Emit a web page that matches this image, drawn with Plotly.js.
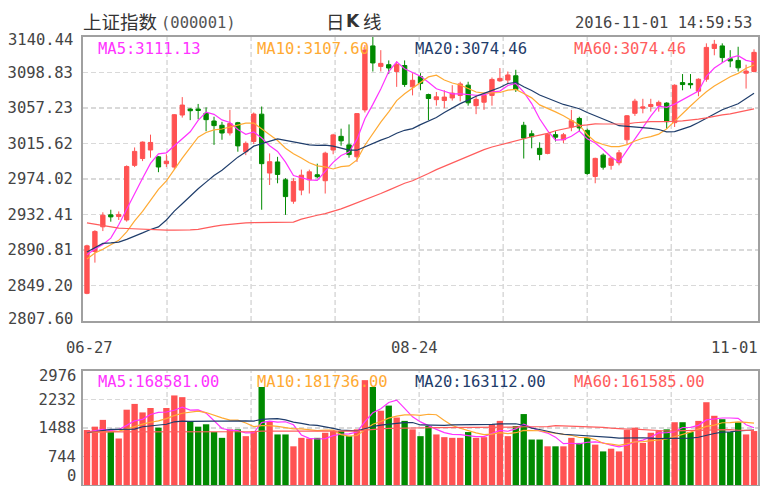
<!DOCTYPE html>
<html><head><meta charset="utf-8">
<script src="https://cdn.plot.ly/plotly-3.0.1.min.js"></script>
<style>html,body{margin:0;padding:0;background:#fff}#chart{width:760px;height:486px}</style>
</head><body><div id="chart"></div>
<script>
const dates = ['06-27','06-28','06-29','06-30','07-01','07-04','07-05','07-06','07-07','07-08',
'07-11','07-12','07-13','07-14','07-15','07-18','07-19','07-20','07-21','07-22',
'07-25','07-26','07-27','07-28','07-29','08-01','08-02','08-03','08-04','08-05',
'08-08','08-09','08-10','08-11','08-12','08-15','08-16','08-17','08-18','08-19',
'08-22','08-23','08-24','08-25','08-26','08-29','08-30','08-31','09-01','09-02',
'09-05','09-06','09-07','09-08','09-09','09-12','09-13','09-14','09-19','09-20',
'09-21','09-22','09-23','09-26','09-27','09-28','09-29','09-30','10-10','10-11',
'10-12','10-13','10-14','10-17','10-18','10-19','10-20','10-21','10-24','10-25',
'10-26','10-27','10-28','10-31','11-01'];
const open = [2840,2889,2918,2932,2930,2926,2990,2998,3008,3000,
2992,2988,3049,3056,3056,3051,3042,3037,3028,3040,
3006,3018,3050,2981,2994,2973,2948,2961,2973,2979,
2972,3008,3024,3014,3000,3055,3130,3106,3108,3100,
3107,3082,3094,3073,3067,3066,3069,3072,3084,3060,
3064,3072,3089,3090,3095,3037,3027,3010,3004,3026,
3020,3035,3045,3031,2977,3002,2990,2993,3020,3051,
3057,3059,3060,3063,3040,3087,3086,3077,3091,3127,
3130,3115,3113,3098,3100];
const high = [2897,2914,2935,2938,2936,2990,3011,3018,3026,3001,
3003,3050,3070,3057,3062,3058,3047,3041,3055,3041,
3018,3052,3059,3004,3000,2975,2975,2985,2985,2992,
3006,3027,3033,3038,3051,3131,3140.44,3125,3113,3112,
3113,3098,3098,3074,3076,3078,3084,3088,3088,3072,
3075,3093,3104,3100,3102,3041,3031,3017,3028,3030,
3028,3055,3047,3033,2999,3004,3000,3008,3049,3068,
3068,3068,3066,3064,3085,3097,3097,3092,3133,3137,
3133,3125,3129,3108,3126];
const low = [2839,2876,2913,2924,2926,2924,2988,2995,2999,2982,
2988,2985,3046,3043,3044,3030,3014,3020,3025,3006,
3002,3015,2938,2967,2969,2932,2945,2955,2957,2975,
2957,3003,3013,2999,2994,3052,3100,3100,3097,3082,
3082,3072,3078,3043,3060,3057,3066,3065,3060,3050,
3055,3060,3088,3085,3076,2998,3010,2996,3003,3018,
3016,3030,3030,2979,2969,2985,2985,2990,3015,3048,
3051,3053,3053,3033,3035,3078,3080,3071,3088,3119,
3110,3105,3100,3080,3099];
const close = [2895.70,2912.56,2931.59,2929.61,2932.48,2988.60,3006.39,3017.29,3016.85,2988.09,
2994.92,3049.38,3060.69,3054.02,3054.30,3043.56,3036.60,3027.90,3039.05,3012.82,
3015.83,3050.17,2992.00,2994.32,2979.34,2953.39,2971.28,2978.46,2982.43,2976.70,
3004.28,3025.68,3018.75,3002.64,3050.67,3125.20,3110.04,3109.55,3104.11,3108.10,
3084.81,3089.71,3085.88,3068.33,3070.31,3070.03,3074.68,3085.49,3063.31,3067.35,
3072.10,3090.71,3091.93,3095.95,3078.85,3021.98,3023.51,3002.85,3026.05,3023.00,
3025.87,3042.31,3033.90,2980.43,2998.17,2987.86,2998.48,3004.70,3048.14,3065.25,
3058.50,3061.35,3063.81,3041.17,3083.88,3084.72,3084.46,3090.94,3128.25,3131.94,
3116.31,3112.35,3104.27,3100.49,3122.44];
const volume = [1435,1523,1700,1382,1214,1966,2117,1895,2011,1497,
2011,2338,2293,1647,1523,1585,1382,1231,1453,1453,
1275,1408,2559,1647,1320,1320,1010,1231,1214,1231,
1364,1408,1408,1275,1453,2737,2559,1940,2073,1762,
1674,1453,1275,1541,1320,1249,1231,1231,1382,1231,
1249,1585,1674,1275,1541,1852,1187,1187,1010,1010,
1010,1231,1098,1231,1054,877,948,877,1435,1497,
1098,1364,1408,1453,1639,1639,1382,1674,2161,1807,
1718,1382,1639,1320,1408];
// closes of the 19 sessions before 06-27 (needed for MA5/10/20 at the left edge)
const priorCloses = [2821.05,2822.45,2916.62,2913.51,2925.23,2938.68,2934.10,2936.04,2927.16,2833.07,
2842.19,2887.21,2872.82,2885.11,2888.81,2878.56,2905.55,2891.96,2854.29];
const ma60Early = [2922.5,2921,2919.5,2917.5,2916.5,2916,2915.5,2915,2915,2914.5,
2914,2914,2914,2914.5,2915,2917,2918.5,2920,2921,2922,
2922.5,2923,2923,2923,2923,2923,2923.5,2927,2929.5,2931.5,
2933.5,2936,2939,2942.5,2946,2950,2953.5,2957,2961,2965,
2969,2972,2976,2980.5,2985,2989,2993,2997,3001,3005,
3008.5,3011.5,3014,3016.5,3019,3021.5,3023.5,3025.5,3027.5];
const volMa5Early = [1380,1420,1450,1420];
const volMa10Early = [1364,1375,1385,1395,1408,1460,1530,1590,1639];
const volMa20Early = [1364,1395,1430,1453,1453,1453,1460,1520,1540,1560,1585,1650,1665,1660,1656,1660,1665,1670,1675];
const volMa60Early = [1385,1385,1385,1385,1386,1388,1390,1390,1391,1391,
1392,1394,1396,1396,1396,1396,1395,1394,1394,1394,
1393,1393,1405,1407,1407,1406,1404,1404,1404,1404,
1405,1406,1407,1407,1408,1432,1455,1466,1478,1485,
1490,1492,1492,1495,1496,1496,1496,1496,1498,1498,
1498,1502,1508,1508,1512,1520,1522,1524,1524];
const priceTicks = ['2807.60','2849.20','2890.81','2932.41','2974.02','3015.62','3057.23','3098.83','3140.44'];
const volTicks = ['0','744','1488','2232','2976'];
const xLabels = ['06-27','08-24','11-01'];
const priceLegend = ['MA5:3111.13','MA10:3107.60','MA20:3074.46','MA60:3074.46'];
const volLegend = ['MA5:168581.00','MA10:181736.00','MA20:163112.00','MA60:161585.00'];
const titleName = '上证指数';
const titleCode = '(000001)';
const stamp = '2016-11-01 14:59:53';

const RED = '#ff5252', GREEN = '#008a00';
const MA_COLORS = ['#ff33ff', '#ffaa33', '#1f3d6b', '#ff5c5c'];
const MONO = 'DejaVu Sans Mono, monospace';
const CJK = 'Noto Sans CJK SC, sans-serif';

function maAt(arr, offset, n, i) { let s = 0; for (let k = 0; k < n; k++) s += arr[offset + i - k]; return s / n; }
const allClose = priorCloses.concat(close);
const P = priorCloses.length;
const ma5 = close.map((_, i) => maAt(allClose, P, 5, i));
const ma10 = close.map((_, i) => maAt(allClose, P, 10, i));
const ma20 = close.map((_, i) => maAt(allClose, P, 20, i));
const ma60 = close.map((_, i) => i < ma60Early.length ? ma60Early[i] : maAt(close, 0, 60, i));
const vma = (n, early) => volume.map((_, i) => i < early.length ? early[i] : maAt(volume, 0, n, i));
const vma5 = vma(5, volMa5Early), vma10 = vma(10, volMa10Early), vma20 = vma(20, volMa20Early), vma60 = vma(60, volMa60Early);
const volColors = close.map((c, i) => c >= open[i] ? RED : GREEN);

const traces = [
  { type: 'candlestick', x: dates, open: open, high: high, low: low, close: close, xaxis: 'x', yaxis: 'y',
    increasing: { line: { color: RED, width: 1 }, fillcolor: RED },
    decreasing: { line: { color: GREEN, width: 1 }, fillcolor: GREEN },
    whiskerwidth: 0, hoverinfo: 'skip' },
  { type: 'bar', x: dates, y: volume, xaxis: 'x2', yaxis: 'y2', marker: { color: volColors, line: { width: 0 } }, hoverinfo: 'skip' }
];
[ma5, ma10, ma20, ma60].forEach((m, k) => traces.push({ type: 'scatter', mode: 'lines', x: dates, y: m, xaxis: 'x', yaxis: 'y', line: { color: MA_COLORS[k], width: 1.2 }, hoverinfo: 'skip' }));
[vma5, vma10, vma20, vma60].forEach((m, k) => traces.push({ type: 'scatter', mode: 'lines', x: dates, y: m, xaxis: 'x2', yaxis: 'y2', line: { color: MA_COLORS[k], width: 1.2 }, hoverinfo: 'skip' }));

const L = 83, R = 758, T = 37, B = 485;
const px = x => (x - L) / (R - L);
const py = y => (B - y) / (B - T);
const GRID = '#d9d9d9', FRAME = '#a0a0a0';
const TICKFONT = { family: MONO, size: 15.5, color: '#444' };

const xBase = { type: 'category', range: [-0.5, dates.length - 0.5], showticklabels: false, showgrid: false, zeroline: false,
  showline: true, mirror: true, linecolor: FRAME, linewidth: 2, ticks: '', fixedrange: true };
const yBase = { showgrid: true, gridcolor: GRID, gridwidth: 1.5, griddash: '5px,3px', zeroline: false, showline: true, mirror: true,
  linecolor: FRAME, linewidth: 2, ticks: 'outside', tickcolor: 'rgba(0,0,0,0)', tickfont: TICKFONT, fixedrange: true };

const shapes = [];
for (let k = 1; k <= 7; k++) {
  [['x domain', 'y domain'], ['x2 domain', 'y2 domain']].forEach(([xr, yr]) => shapes.push({
    type: 'line', xref: xr, yref: yr, x0: k * 0.1245, x1: k * 0.1245, y0: 0, y1: 1, layer: 'below',
    line: { color: GRID, width: 1.5, dash: '5px,3px' } }));
}

const annotations = [];
const ann = (text, x, y, opts) => annotations.push(Object.assign({ text: text, xref: 'paper', yref: 'paper', x: px(x), y: py(y),
  xanchor: 'left', yanchor: 'middle', showarrow: false, borderpad: 0 }, opts));
ann(titleName, 82, 21, { font: { family: CJK, size: 18.5, color: '#333' } });
ann(titleCode, 160, 23, { font: { family: MONO, size: 15.5, color: '#555' } });
ann('日', 325, 21, { font: { family: CJK, size: 18.5, color: '#333' } });
ann('<b>K</b>', 345, 21, { font: { family: 'DejaVu Sans, sans-serif', size: 17, color: '#333' } });
ann('线', 362, 21, { font: { family: CJK, size: 18.5, color: '#333' } });
ann(stamp, 753, 23, { xanchor: 'right', font: { family: MONO, size: 15.5, color: '#444' } });
const legX = [97, 256, 414, 573];
priceLegend.forEach((t, k) => ann(t, legX[k], 49, { font: { family: MONO, size: 15.5, color: MA_COLORS[k] } }));
volLegend.forEach((t, k) => ann(t, legX[k], 382, { font: { family: MONO, size: 15.5, color: MA_COLORS[k] } }));
ann(xLabels[0], 89, 348, { xanchor: 'center', font: TICKFONT });
ann(xLabels[1], 414, 348, { xanchor: 'center', font: TICKFONT });
ann(xLabels[2], 759, 348, { xanchor: 'right', font: TICKFONT });
// outermost tick labels sit just inside the frame, as in the reference
ann(priceTicks[priceTicks.length - 1], 74, 40, { xanchor: 'right', font: TICKFONT });
ann(priceTicks[0], 74, 319, { xanchor: 'right', font: TICKFONT });
ann(volTicks[volTicks.length - 1], 77, 376, { xanchor: 'right', font: TICKFONT });
ann(volTicks[0], 77, 476, { xanchor: 'right', font: TICKFONT });

const midTexts = (arr) => arr.map((t, i) => (i === 0 || i === arr.length - 1) ? '' : t);
const layout = {
  width: 760, height: 486, margin: { l: L, r: 760 - R, t: T, b: 486 - B },
  paper_bgcolor: '#fff', plot_bgcolor: '#fff', showlegend: false, hovermode: false,
  boxgap: 0.22, bargap: 0.2,
  xaxis: Object.assign({}, xBase, { anchor: 'y', rangeslider: { visible: false } }),
  xaxis2: Object.assign({}, xBase, { anchor: 'y2' }),
  yaxis: Object.assign({}, yBase, { domain: [py(321), 1], range: [2807.60, 3140.44], ticklen: 5,
    tickvals: priceTicks.map(Number), ticktext: midTexts(priceTicks) }),
  yaxis2: Object.assign({}, yBase, { domain: [0, py(371)], range: [0, 2976], ticklen: 2,
    tickvals: volTicks.map(Number), ticktext: midTexts(volTicks) }),
  shapes: shapes, annotations: annotations
};
Plotly.newPlot('chart', traces, layout, { staticPlot: true, displayModeBar: false });
</script></body></html>
